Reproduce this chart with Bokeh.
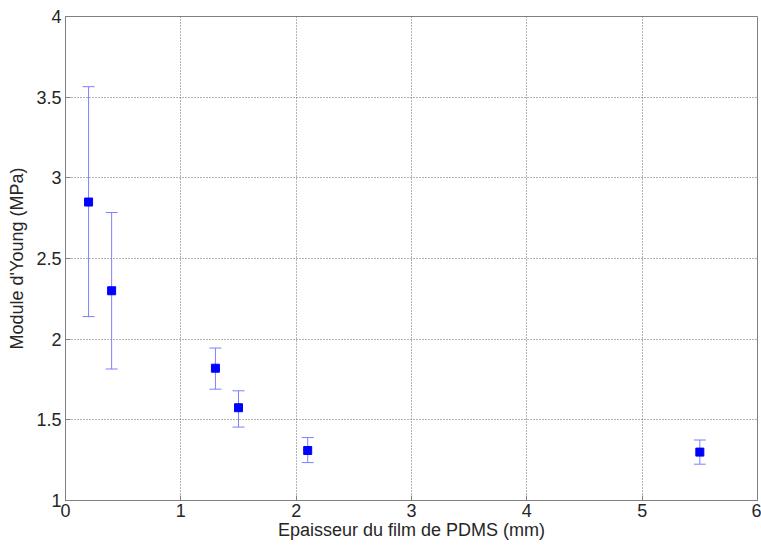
from bokeh.plotting import figure
from bokeh.models import ColumnDataSource, Whisker, TeeHead, FixedTicker, Range1d
from bokeh.embed import file_html
from bokeh.resources import INLINE

thickness = [0.2, 0.4, 1.3, 1.5, 2.1, 5.5]
modulus = [2.85, 2.30, 1.82, 1.575, 1.31, 1.30]
upper = [3.565, 2.785, 1.945, 1.68, 1.39, 1.375]
lower = [2.14, 1.815, 1.69, 1.455, 1.235, 1.225]
xticks = [0, 1, 2, 3, 4, 5, 6]
yticks = [1, 1.5, 2, 2.5, 3, 3.5, 4]

src = ColumnDataSource(dict(x=thickness, y=modulus, up=upper, lo=lower))

p = figure(width=761, height=548, output_backend="svg", toolbar_location=None,
           x_range=Range1d(0, 6), y_range=Range1d(1, 4),
           min_border_left=65, min_border_top=16, min_border_right=4, min_border_bottom=48,
           x_axis_label="Epaisseur du film de PDMS (mm)", y_axis_label="Module d'Young (MPa)")
p.background_fill_color = "white"
p.border_fill_color = "white"
p.outline_line_color = "#808080"

FONT = "Liberation Sans"
for ax in [p.xaxis[0], p.yaxis[0]]:
    ax.axis_line_color = "#808080"
    ax.major_tick_line_color = "#808080"
    ax.major_tick_in = 5
    ax.major_tick_out = 0
    ax.minor_tick_line_color = None
    ax.major_label_text_font = FONT
    ax.major_label_text_font_size = "18px"
    ax.major_label_text_color = "#262626"
    ax.axis_label_text_font = FONT
    ax.axis_label_text_font_size = "18px"
    ax.axis_label_text_font_style = "normal"
    ax.axis_label_text_color = "#262626"
p.xaxis[0].ticker = FixedTicker(ticks=xticks)
p.yaxis[0].ticker = FixedTicker(ticks=yticks)
p.xaxis[0].major_label_standoff = 3
p.xaxis[0].axis_label_standoff = 0
p.yaxis[0].major_label_standoff = 4
p.yaxis[0].axis_label_standoff = 6

p.xgrid.ticker = FixedTicker(ticks=xticks)
p.ygrid.ticker = FixedTicker(ticks=yticks)
for g in [p.xgrid[0], p.ygrid[0]]:
    g.grid_line_color = "#666666"
    g.grid_line_dash = "1 2"
    g.grid_line_width = 1

w = Whisker(source=src, base="x", upper="up", lower="lo", dimension="height",
            line_color="#7f7fff", line_width=1,
            upper_head=TeeHead(size=12, line_color="#7f7fff", line_width=1),
            lower_head=TeeHead(size=12, line_color="#7f7fff", line_width=1))
p.add_layout(w)

p.scatter("x", "y", source=src, marker="square", size=8, fill_color="#0000ff", line_color="#0000ff")

open("out.html", "w").write(file_html(p, INLINE))
